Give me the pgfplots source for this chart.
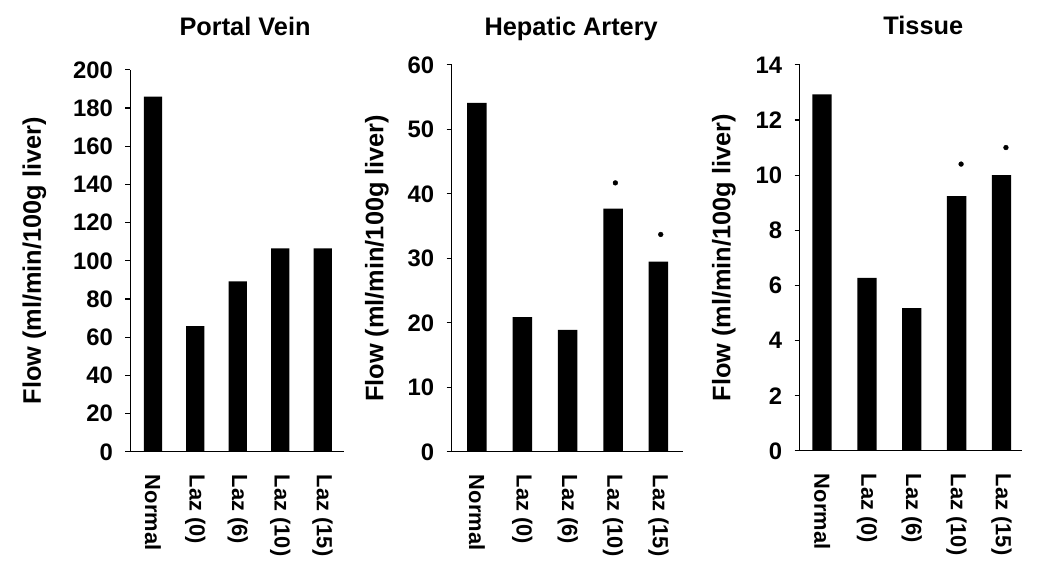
\documentclass[border=0pt]{standalone}
\usepackage{pgfplots}
\pgfplotsset{compat=1.18}
\usepackage{fontspec}
\setmainfont{Liberation Sans}
\begin{document}
\pgfplotsset{
  flowaxis/.style={
    scale only axis,
    anchor=south west,
    axis lines*=left,
    axis line style={line width=1.3bp, black},
    ymin=0,
    xtick={0,1,2,3,4},
    xticklabels={Normal,Laz (0),Laz (6),Laz (10),Laz (15)},
    xtick style={draw=none},
    ytick style={line width=1.1bp, black},
    tick align=outside,
    major tick length=5bp,
    ytick pos=left,
    xtick pos=bottom,
    /pgf/number format/assume math mode=true,
    yticklabel style={font=\fontsize{24}{24}\selectfont\bfseries, xshift=-9bp},
    xticklabel style={font=\fontsize{22}{22}\selectfont\bfseries, yshift=-18bp, rotate=-90, anchor=west, inner sep=0pt},
    ylabel={Flow (ml/min/100g liver)},
    ylabel style={font=\fontsize{25.5}{25.5}\selectfont\bfseries, anchor=center},
    title style={font=\fontsize{25.5}{25.5}\selectfont\bfseries, anchor=base},
    clip=false,
  },
  flowbar/.style={ybar, fill=black, draw=none, bar width=0.43},
  star/.style={only marks, mark=*, mark size=2.4bp, black},
}
\begin{tikzpicture}
\path[use as bounding box] (0,0) rectangle (1050bp,-575bp);

% Portal Vein
\begin{axis}[flowaxis,
  at={(128bp,-453bp)}, width=214bp, height=383bp,
  xmin=-0.53, xmax=4.5, ymax=200, ytick={0,20,...,200},
  ylabel style={at={(axis description cs:-0.45,0.5)}},
  title={Portal Vein}, title style={at={(axis description cs:0.537,1)}, yshift=28bp}]
\addplot[flowbar] coordinates {(0,186) (1,65.8) (2,89.3) (3,106.5) (4,106.5)};
\end{axis}

% Hepatic Artery
\begin{axis}[flowaxis,
  at={(450bp,-453bp)}, width=232bp, height=388bp,
  xmin=-0.56, xmax=4.54, ymax=60, ytick={0,10,...,60},
  ylabel style={at={(axis description cs:-0.323,0.5)}},
  title={Hepatic Artery}, title style={at={(axis description cs:0.517,1)}, yshift=23bp}]
\addplot[flowbar] coordinates {(0,54.1) (1,20.9) (2,18.9) (3,37.7) (4,29.5)};
\addplot[star] coordinates {(3.05,41.7) (4.05,33.7)};
\end{axis}

% Tissue
\begin{axis}[flowaxis,
  at={(799bp,-452bp)}, width=223bp, height=387bp,
  xmin=-0.5, xmax=4.46, ymax=14, ytick={0,2,...,14},
  ylabel style={at={(axis description cs:-0.341,0.5)}},
  title={Tissue}, title style={at={(axis description cs:0.556,1)}, yshift=24bp}]
\addplot[flowbar] coordinates {(0,12.93) (1,6.27) (2,5.18) (3,9.24) (4,10.0)};
\addplot[star] coordinates {(3.1,10.4) (4.1,11.0)};
\end{axis}
\end{tikzpicture}
\end{document}
